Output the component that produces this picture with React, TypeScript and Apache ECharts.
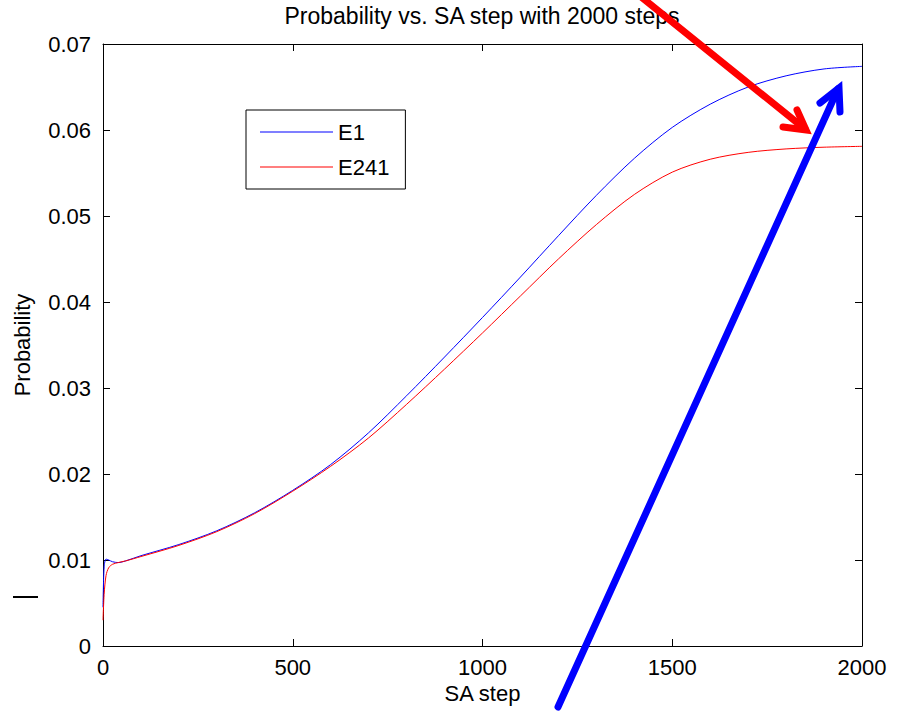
import React, { useEffect, useRef } from "react";
import * as echarts from "echarts";

const steps = [0, 3, 8, 15, 25, 40, 60, 100, 200, 300, 400, 500, 600, 700, 800, 900, 1000, 1100, 1200, 1300, 1400, 1500, 1600, 1700, 1800, 1900, 2000];
const e1 = [0.0045, 0.0092, 0.0101, 0.01, 0.0098, 0.0097, 0.0099, 0.0105, 0.0118, 0.0134, 0.0155, 0.0181, 0.0211, 0.0248, 0.0291, 0.0336, 0.0382, 0.0429, 0.0477, 0.0524, 0.0567, 0.0603, 0.063, 0.065, 0.0663, 0.0671, 0.0674];
const e241 = [0.003, 0.006, 0.0082, 0.0091, 0.0095, 0.0097, 0.0099, 0.0104, 0.0117, 0.0133, 0.0154, 0.018, 0.0209, 0.0242, 0.0281, 0.0322, 0.0364, 0.0407, 0.045, 0.049, 0.0525, 0.0551, 0.0566, 0.0574, 0.0578, 0.058, 0.0581];
const seriesNames = ["E1", "E241"];
const titleText = "Probability vs. SA step with 2000 steps";
const xName = "SA step";
const yName = "Probability";

const FONT = "'Liberation Sans', Arial, Helvetica, sans-serif";

export default function App() {
  const ref = useRef<HTMLDivElement>(null);
  useEffect(() => {
    if (!ref.current) return;
    const chart = echarts.init(ref.current, undefined, { renderer: "svg" });
    const toPairs = (ys: number[]) => steps.map((s, i) => [s, ys[i]]);
    const axisBase = {
      type: "value" as const,
      axisLine: { show: true, onZero: false, lineStyle: { color: "#000", width: 1 } },
      axisTick: { show: true, inside: true, length: 7, lineStyle: { color: "#000" } },
      splitLine: { show: false },
    };
    chart.setOption({
      animation: false,
      backgroundColor: "#fff",
      title: {
        text: titleText,
        left: 482,
        top: 4,
        padding: 0,
        textAlign: "center",
        textStyle: { fontFamily: FONT, fontSize: 23, fontWeight: "normal", color: "#000" },
      },
      legend: {
        orient: "vertical",
        left: 246,
        top: 110,
        data: seriesNames,
        icon: "rect",
        itemWidth: 73,
        itemHeight: 1,
        itemGap: 13,
        padding: [11, 16, 11, 14],
        borderColor: "#000",
        borderWidth: 1,
        backgroundColor: "#fff",
        textStyle: { fontFamily: FONT, fontSize: 22, color: "#000", padding: [0, 0, 0, 0] },
      },
      grid: { left: 103, right: 42, top: 44, bottom: 68, containLabel: false },
      xAxis: [
        {
          ...axisBase,
          position: "bottom",
          min: 0,
          max: 2000,
          interval: 500,
          name: xName,
          nameLocation: "middle",
          nameGap: 36,
          nameTextStyle: { fontFamily: FONT, fontSize: 22, color: "#000" },
          axisLabel: { fontFamily: FONT, fontSize: 22, color: "#000", margin: 10, formatter: (v: number) => String(v) },
        },
        {
          ...axisBase,
          position: "top",
          min: 0,
          max: 2000,
          interval: 500,
          axisLabel: { show: false },
        },
      ],
      yAxis: [
        {
          ...axisBase,
          position: "left",
          min: 0,
          max: 0.07,
          interval: 0.01,
          name: yName,
          nameLocation: "middle",
          nameGap: 70,
          nameTextStyle: { fontFamily: FONT, fontSize: 22, color: "#000" },
          axisLabel: { fontFamily: FONT, fontSize: 22, color: "#000", margin: 12, formatter: (v: number) => String(v) },
        },
        {
          ...axisBase,
          position: "right",
          min: 0,
          max: 0.07,
          interval: 0.01,
          axisLabel: { show: false },
        },
      ],
      series: [
        {
          name: seriesNames[0],
          type: "line",
          data: toPairs(e1),
          showSymbol: false,
          smooth: 0.3,
          lineStyle: { color: "#0000ff", width: 1 },
          itemStyle: { color: "#0000ff" },
        },
        {
          name: seriesNames[1],
          type: "line",
          data: toPairs(e241),
          showSymbol: false,
          smooth: 0.3,
          lineStyle: { color: "#ff0000", width: 1 },
          itemStyle: { color: "#ff0000" },
        },
      ],
      graphic: [
        {
          type: "line",
          z: 100,
          shape: { x1: 13, y1: 597, x2: 38, y2: 597 },
          style: { stroke: "#000", lineWidth: 2 },
        },
        {
          type: "line",
          z: 100,
          shape: { x1: 640, y1: -4, x2: 805, y2: 129 },
          style: { stroke: "#ff0000", lineWidth: 7, lineCap: "round" },
        },
        {
          type: "polyline",
          z: 100,
          shape: { points: [[783, 127], [806, 130], [797, 110]] },
          style: { stroke: "#ff0000", lineWidth: 7, lineCap: "round", lineJoin: "miter", fill: "none" },
        },
        {
          type: "line",
          z: 100,
          shape: { x1: 558, y1: 707, x2: 838, y2: 89 },
          style: { stroke: "#0000ff", lineWidth: 7, lineCap: "round" },
        },
        {
          type: "polyline",
          z: 100,
          shape: { points: [[820, 103], [839, 88], [840, 112]] },
          style: { stroke: "#0000ff", lineWidth: 7, lineCap: "round", lineJoin: "miter", fill: "none" },
        },
      ],
    });
    return () => chart.dispose();
  }, []);
  return (
    <div
      ref={ref}
      style={{ position: "fixed", left: 0, top: 0, width: 904, height: 714, background: "#fff" }}
    />
  );
}
